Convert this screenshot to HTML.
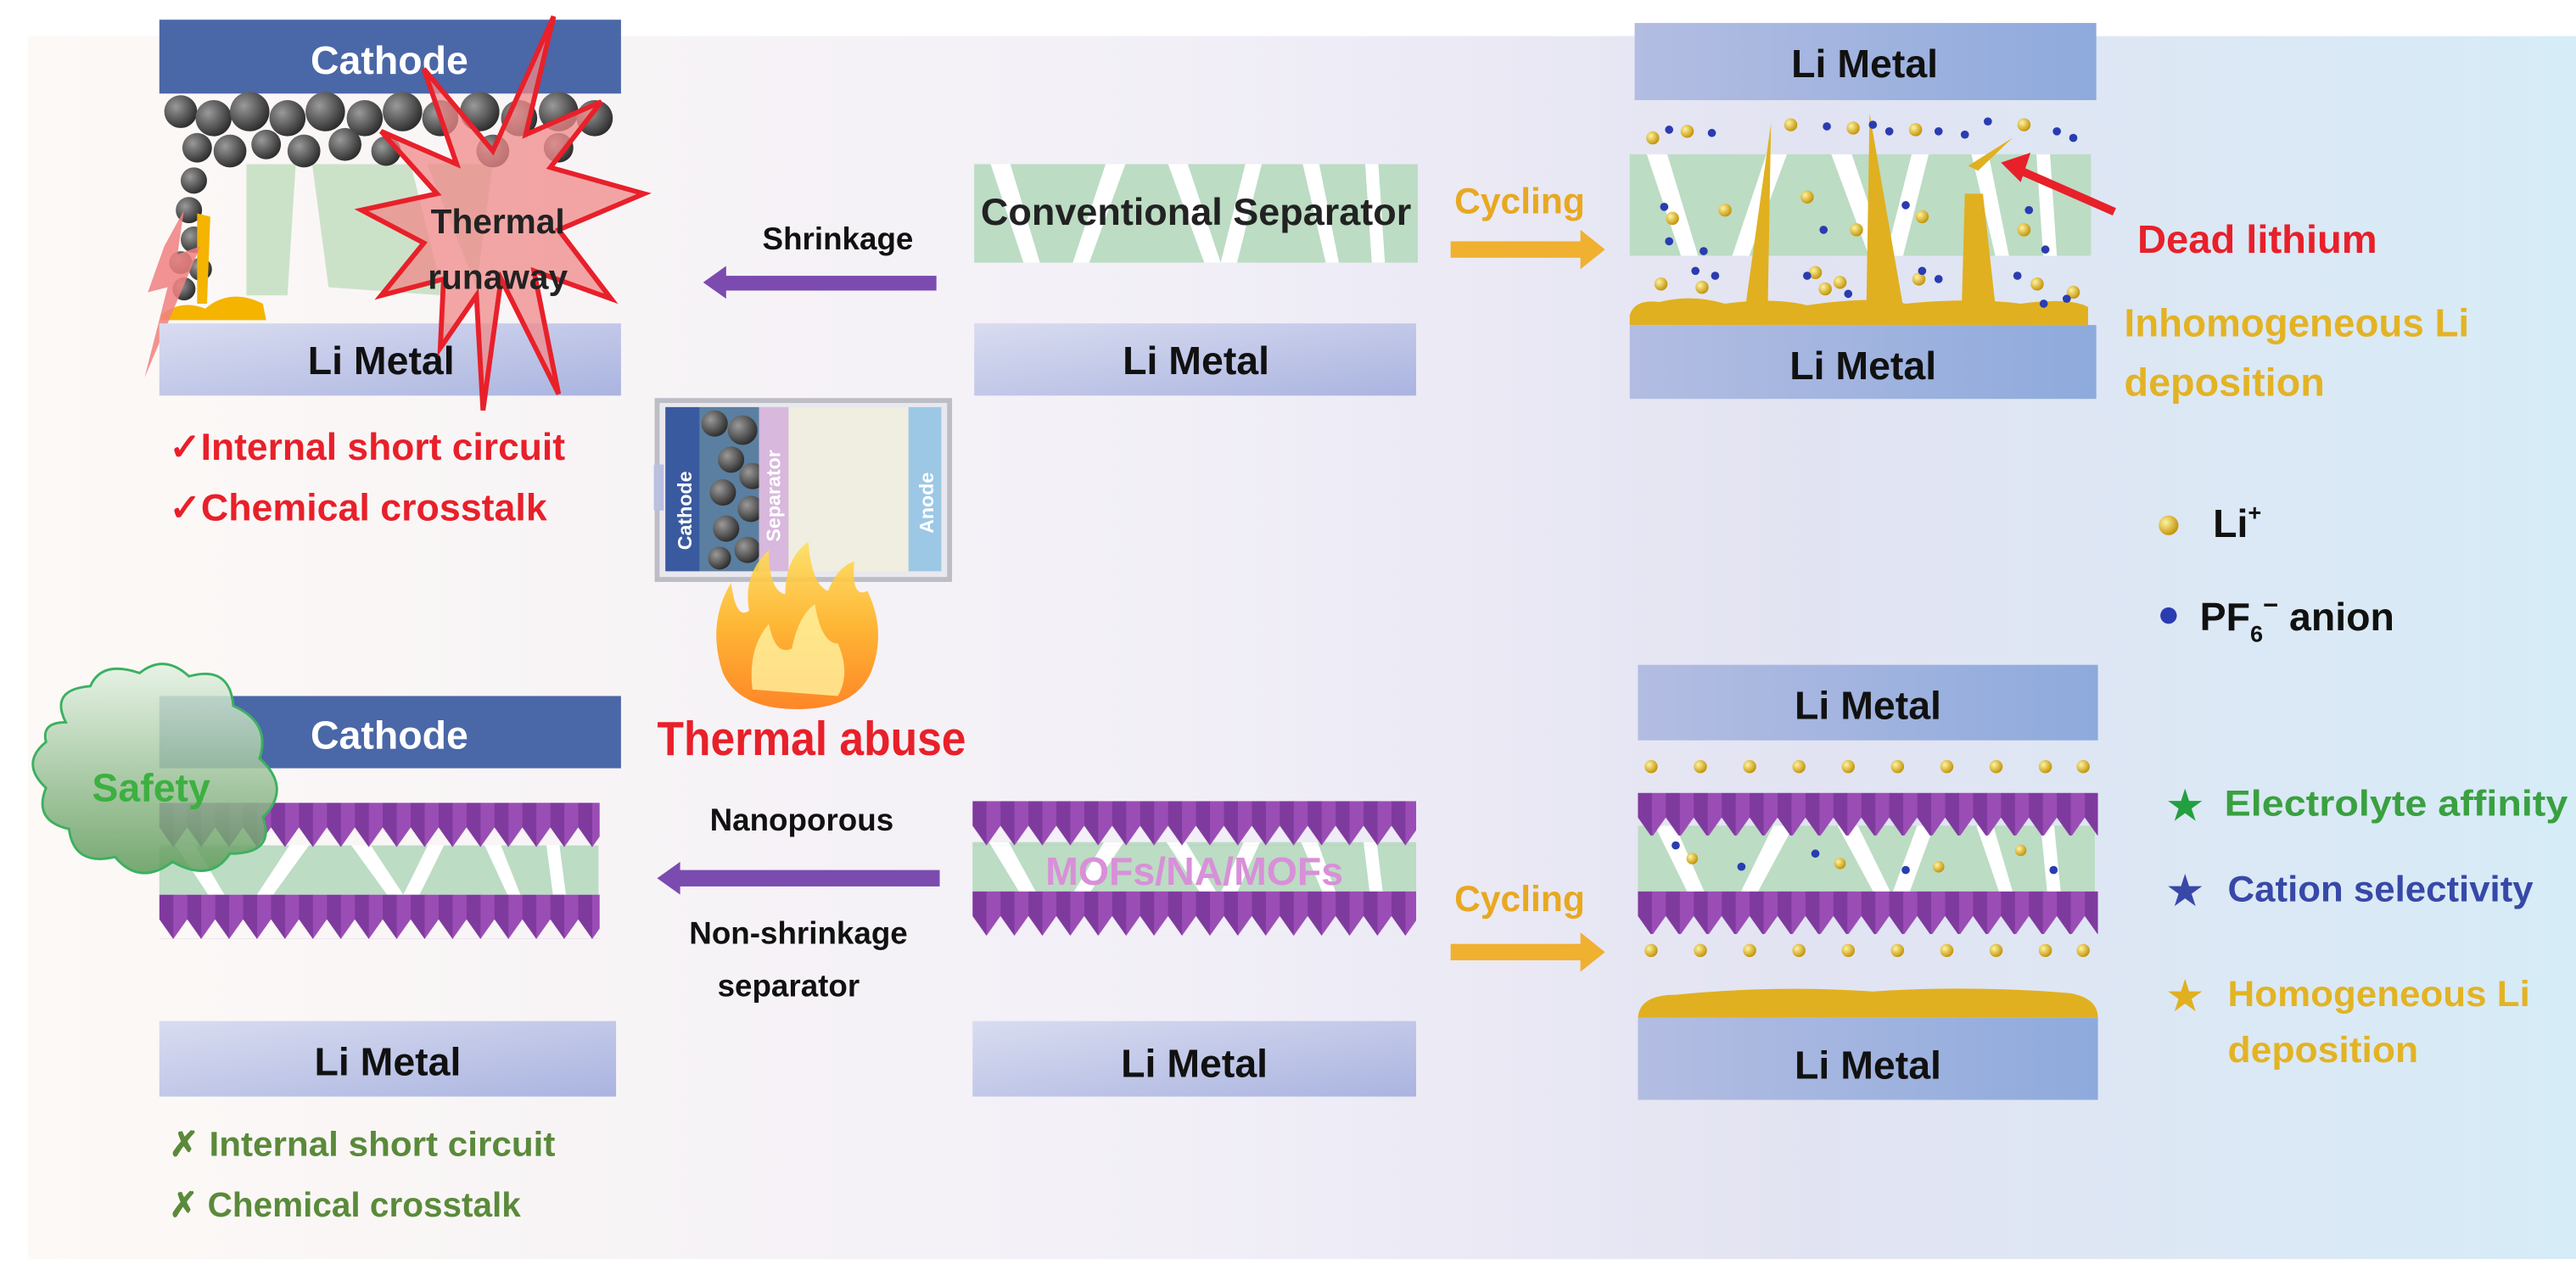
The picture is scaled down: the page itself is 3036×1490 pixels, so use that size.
<!DOCTYPE html>
<html><head><meta charset="utf-8"><style>
html,body{margin:0;padding:0;background:#fff}
svg{display:block}
text{font-family:"Liberation Sans",sans-serif;font-weight:bold}
</style></head><body>
<svg width="3036" height="1490" viewBox="0 0 1568 770" preserveAspectRatio="none" xmlns="http://www.w3.org/2000/svg">
<defs>
<linearGradient id="bg" x1="0" y1="0" x2="1" y2="0">
<stop offset="0" stop-color="#fdf9f6"/><stop offset="0.45" stop-color="#f2eff7"/><stop offset="0.7" stop-color="#e2e3f2"/><stop offset="1" stop-color="#d6ecf7"/></linearGradient>
<linearGradient id="li" x1="0" y1="0" x2="1" y2="1">
<stop offset="0" stop-color="#d9dcf0"/><stop offset="1" stop-color="#aab4e0"/></linearGradient>
<linearGradient id="li2" x1="0" y1="0" x2="1" y2="0">
<stop offset="0" stop-color="#b3bde2"/><stop offset="1" stop-color="#8eaadc"/></linearGradient>
<pattern id="mof" width="17" height="27" patternUnits="userSpaceOnUse">
<polygon points="0,0 17,0 17,15 8.5,27 0,15" fill="#9a4db5"/>
<polygon points="0,0 8.5,0 8.5,27 0,15" fill="#7f3a9e"/>
</pattern>
<radialGradient id="ball" cx="0.35" cy="0.35" r="0.7"><stop offset="0" stop-color="#9a9a9a"/><stop offset="1" stop-color="#2a2a2a"/></radialGradient>
<radialGradient id="gb" cx="0.35" cy="0.35" r="0.7"><stop offset="0" stop-color="#fff3a0"/><stop offset="1" stop-color="#c09000"/></radialGradient>
<linearGradient id="fire" x1="0" y1="1" x2="0" y2="0"><stop offset="0" stop-color="#ff7a10"/><stop offset="0.5" stop-color="#ffb020"/><stop offset="1" stop-color="#ffe060"/></linearGradient>
<linearGradient id="cloud" x1="0" y1="0" x2="0" y2="1"><stop offset="0" stop-color="#e4f2e4"/><stop offset="1" stop-color="#5f9a5a"/></linearGradient>
<g id="sep">
<rect x="0" y="0" width="270" height="60" fill="#bcdcc4"/>
<polygon points="10,0 22,0 40,60 30,60" fill="#fff"/>
<polygon points="80,0 92,0 70,60 60,60" fill="#fff"/>
<polygon points="118,0 130,0 150,60 140,60" fill="#fff"/>
<polygon points="165,0 175,0 160,60 150,60" fill="#fff"/>
<polygon points="200,0 210,0 222,60 214,60" fill="#fff"/>
<polygon points="238,0 246,0 250,60 242,60" fill="#fff"/>
</g>
</defs>
<rect width="1568" height="770" fill="#fff"/>
<rect x="17" y="22" width="1551" height="745" fill="url(#bg)"/>

<!-- TOP LEFT -->
<rect x="97" y="12" width="281" height="45" fill="#4a67a8"/>
<text x="237" y="45" font-size="24" fill="#fff" text-anchor="middle">Cathode</text>
<g opacity="0.9">
<polygon points="150,100 180,100 175,180 150,180" fill="#c8e0c4"/>
<polygon points="190,100 250,100 270,180 200,175" fill="#c8e0c4"/>
<polygon points="260,100 300,100 290,175" fill="#c8e0c4"/>
</g>
<g fill="url(#ball)">
<circle cx="110" cy="68" r="10"/><circle cx="130" cy="72" r="11"/><circle cx="152" cy="68" r="12"/><circle cx="175" cy="72" r="11"/><circle cx="198" cy="68" r="12"/><circle cx="222" cy="72" r="11"/><circle cx="245" cy="68" r="12"/><circle cx="268" cy="72" r="11"/><circle cx="292" cy="68" r="12"/><circle cx="316" cy="72" r="11"/><circle cx="340" cy="68" r="12"/><circle cx="362" cy="72" r="11"/>
<circle cx="120" cy="90" r="9"/><circle cx="140" cy="92" r="10"/><circle cx="162" cy="88" r="9"/><circle cx="185" cy="92" r="10"/><circle cx="210" cy="88" r="10"/><circle cx="235" cy="92" r="9"/><circle cx="300" cy="92" r="10"/><circle cx="340" cy="90" r="9"/>
<circle cx="118" cy="110" r="8"/><circle cx="115" cy="128" r="8"/><circle cx="118" cy="146" r="8"/><circle cx="110" cy="160" r="7"/><circle cx="112" cy="176" r="7"/><circle cx="122" cy="164" r="7"/>
</g>
<polygon points="120,130 128,132 126,185 120,185" fill="#f4b400"/>
<path d="M98,192 Q110,182 125,188 Q140,175 160,185 L162,195 L98,195Z" fill="#f4b400"/>
<polygon points="100,150 112,128 108,155 122,150 88,230 102,175 90,178" fill="#f08080" opacity="0.85"/>
<rect x="97" y="197" width="281" height="44" fill="url(#li)"/>
<text x="232" y="228" font-size="24" fill="#111" text-anchor="middle">Li Metal</text>
<polygon points="337,10 320,82 366,62 335,102 392,118 340,140 372,182 325,165 340,240 305,170 294,250 290,180 268,212 270,170 232,180 258,148 220,128 266,118 232,80 278,100 258,42 300,92" fill="#f08a8a" fill-opacity="0.75" stroke="#e8202a" stroke-width="3" stroke-linejoin="miter"/>
<text x="303" y="142" font-size="21" fill="#222" text-anchor="middle" font-weight="normal">Thermal</text>
<text x="303" y="176" font-size="21" fill="#222" text-anchor="middle" font-weight="normal">runaway</text>
<text x="103" y="280" font-size="23" fill="#e8202a" textLength="241" lengthAdjust="spacingAndGlyphs">✓Internal short circuit</text>
<text x="103" y="317" font-size="23" fill="#e8202a" textLength="230" lengthAdjust="spacingAndGlyphs">✓Chemical crosstalk</text>

<text x="510" y="152" font-size="19" fill="#111" text-anchor="middle" font-weight="normal">Shrinkage</text>
<rect x="440" y="168" width="130" height="9" fill="#7b4bb0"/>
<polygon points="428,172 442,162 442,182" fill="#7b4bb0"/>

<!-- Conventional -->
<use href="#sep" x="593" y="100"/>
<text x="728" y="137" font-size="23" fill="#222" text-anchor="middle" textLength="262" lengthAdjust="spacingAndGlyphs">Conventional Separator</text>
<rect x="593" y="197" width="269" height="44" fill="url(#li)"/>
<text x="728" y="228" font-size="24" fill="#111" text-anchor="middle">Li Metal</text>

<text x="925" y="130" font-size="22" fill="#e8a820" text-anchor="middle">Cycling</text>
<rect x="883" y="147" width="80" height="10" fill="#f0b030"/>
<polygon points="962,140 977,152 962,164" fill="#f0b030"/>

<!-- TOP RIGHT -->
<rect x="995" y="14" width="281" height="47" fill="url(#li2)"/>
<text x="1135" y="47" font-size="24" fill="#111" text-anchor="middle">Li Metal</text>
<g transform="translate(992,94) scale(1.04,1.03)"><use href="#sep"/></g>
<path d="M992,192 Q995,182 1010,184 Q1030,179 1050,185 Q1080,181 1100,186 Q1140,180 1160,185 Q1200,181 1230,185 Q1260,181 1271,187 L1271,198 L992,198Z" fill="#e0b020"/>
<polygon points="1062,190 1078,75 1076,190" fill="#e0b020"/>
<polygon points="1136,190 1138,69 1159,190" fill="#e0b020"/>
<polygon points="1194,190 1196,118 1207,118 1215,190" fill="#e0b020"/>
<polygon points="1198,101 1225,84 1204,104" fill="#e0b020"/>
<line x1="1287" y1="129" x2="1230" y2="104" stroke="#e8202a" stroke-width="5"/>
<polygon points="1218,99 1236,93 1230,111" fill="#e8202a"/>
<g fill="url(#gb)">
<circle cx="1006" cy="84" r="4"/><circle cx="1027" cy="80" r="4"/><circle cx="1090" cy="76" r="4"/><circle cx="1128" cy="78" r="4"/><circle cx="1166" cy="79" r="4"/><circle cx="1232" cy="76" r="4"/>
<circle cx="1018" cy="133" r="4"/><circle cx="1050" cy="128" r="4"/><circle cx="1100" cy="120" r="4"/><circle cx="1130" cy="140" r="4"/><circle cx="1170" cy="132" r="4"/><circle cx="1232" cy="140" r="4"/>
<circle cx="1011" cy="173" r="4"/><circle cx="1036" cy="175" r="4"/><circle cx="1105" cy="166" r="4"/><circle cx="1111" cy="176" r="4"/><circle cx="1120" cy="172" r="4"/><circle cx="1168" cy="170" r="4"/><circle cx="1240" cy="173" r="4"/><circle cx="1262" cy="178" r="4"/>
</g>
<g fill="#2a3cb0">
<circle cx="1016" cy="79" r="2.5"/><circle cx="1042" cy="81" r="2.5"/><circle cx="1112" cy="77" r="2.5"/><circle cx="1140" cy="76" r="2.5"/><circle cx="1150" cy="80" r="2.5"/><circle cx="1180" cy="80" r="2.5"/><circle cx="1196" cy="82" r="2.5"/><circle cx="1210" cy="74" r="2.5"/><circle cx="1252" cy="80" r="2.5"/><circle cx="1262" cy="84" r="2.5"/>
<circle cx="1013" cy="126" r="2.5"/><circle cx="1016" cy="147" r="2.5"/><circle cx="1037" cy="153" r="2.5"/><circle cx="1110" cy="140" r="2.5"/><circle cx="1160" cy="125" r="2.5"/><circle cx="1235" cy="128" r="2.5"/><circle cx="1245" cy="152" r="2.5"/>
<circle cx="1032" cy="165" r="2.5"/><circle cx="1044" cy="168" r="2.5"/><circle cx="1100" cy="168" r="2.5"/><circle cx="1125" cy="179" r="2.5"/><circle cx="1170" cy="165" r="2.5"/><circle cx="1180" cy="170" r="2.5"/><circle cx="1228" cy="168" r="2.5"/><circle cx="1258" cy="182" r="2.5"/><circle cx="1244" cy="185" r="2.5"/>
</g>
<rect x="992" y="198" width="284" height="45" fill="url(#li2)"/>
<text x="1134" y="231" font-size="24" fill="#111" text-anchor="middle">Li Metal</text>
<text x="1301" y="154" font-size="24" fill="#e8202a" textLength="146" lengthAdjust="spacingAndGlyphs">Dead lithium</text>
<text x="1293" y="205" font-size="24" fill="#e3b324" textLength="210" lengthAdjust="spacingAndGlyphs">Inhomogeneous Li</text>
<text x="1293" y="241" font-size="24" fill="#e3b324" textLength="122" lengthAdjust="spacingAndGlyphs">deposition</text>

<!-- Legend -->
<circle cx="1320" cy="320" r="6" fill="url(#gb)"/>
<text x="1347" y="327" font-size="24" fill="#111">Li<tspan font-size="14" dy="-10">+</tspan></text>
<circle cx="1320" cy="375" r="5" fill="#2a3cb0"/>
<text x="1339" y="384" font-size="24" fill="#111">PF<tspan font-size="14" dy="7">6</tspan><tspan font-size="16" dy="-17">−</tspan><tspan dy="10"> anion</tspan></text>

<!-- Battery cell -->
<rect x="400" y="244" width="178" height="109" fill="#e8e8ee" stroke="#bdbdc6" stroke-width="3"/>
<rect x="398" y="283" width="6" height="28" fill="#b9c0e0"/>
<rect x="405" y="248" width="21" height="100" fill="#3a5aa0"/>
<text transform="translate(421,335) rotate(-90)" font-size="12" fill="#fff" font-weight="normal">Cathode</text>
<rect x="426" y="248" width="36" height="100" fill="#5a7fa0"/>
<g fill="url(#ball)">
<circle cx="435" cy="258" r="8"/><circle cx="452" cy="262" r="9"/><circle cx="445" cy="280" r="8"/><circle cx="458" cy="290" r="8"/><circle cx="440" cy="300" r="8"/><circle cx="457" cy="310" r="8"/><circle cx="442" cy="322" r="8"/><circle cx="455" cy="335" r="8"/><circle cx="438" cy="340" r="7"/>
</g>
<rect x="462" y="248" width="18" height="100" fill="#d8b8dc"/>
<text transform="translate(475,330) rotate(-90)" font-size="12" fill="#fff" font-weight="normal">Separator</text>
<rect x="480" y="248" width="73" height="100" fill="#efeee0"/>
<rect x="553" y="248" width="20" height="100" fill="#9cc8e6"/>
<text transform="translate(568,325) rotate(-90)" font-size="12" fill="#fff" font-weight="normal">Anode</text>
<path d="M440,410 Q430,380 445,355 Q448,378 456,372 Q452,350 468,335 Q468,360 478,362 Q478,340 492,330 Q494,356 504,360 Q510,345 520,342 Q518,365 528,360 Q540,385 530,410 Q520,432 485,432 Q450,432 440,410Z" fill="url(#fire)" opacity="0.9"/>
<path d="M458,420 Q455,395 468,380 Q472,400 482,395 Q486,375 496,368 Q500,392 510,392 Q518,410 510,424Z" fill="#fff3a0" opacity="0.8"/>
<text x="494" y="460" font-size="29" fill="#e8202a" text-anchor="middle" textLength="188" lengthAdjust="spacingAndGlyphs">Thermal abuse</text>

<!-- BOTTOM LEFT -->
<rect x="97" y="424" width="281" height="44" fill="#4a67a8"/>
<text x="237" y="456" font-size="24" fill="#fff" text-anchor="middle">Cathode</text>
<g transform="translate(97,515) scale(0.99,0.5)"><use href="#sep"/></g>
<g transform="translate(97,489)"><rect width="268" height="27" fill="url(#mof)"/></g>
<g transform="translate(97,545)"><rect width="268" height="27" fill="url(#mof)"/></g>
<path d="M40,440 Q30,420 55,418 Q62,402 85,410 Q100,398 115,412 Q140,405 142,430 Q165,440 158,462 Q178,480 160,498 Q168,520 140,520 Q128,538 105,525 Q85,540 70,522 Q45,528 42,505 Q20,500 28,480 Q12,465 28,452 Q25,440 40,440Z" fill="url(#cloud)" fill-opacity="0.85" stroke="#3cb060" stroke-width="1.5"/>
<text x="92" y="488" font-size="24" fill="#3cb040" text-anchor="middle" font-weight="normal">Safety</text>
<rect x="97" y="622" width="278" height="46" fill="url(#li)"/>
<text x="236" y="655" font-size="24" fill="#111" text-anchor="middle">Li Metal</text>
<text x="103" y="704" font-size="21" fill="#5a8a3a" textLength="235" lengthAdjust="spacingAndGlyphs">✗ Internal short circuit</text>
<text x="103" y="741" font-size="21" fill="#5a8a3a" textLength="214" lengthAdjust="spacingAndGlyphs">✗ Chemical crosstalk</text>

<text x="488" y="506" font-size="19" fill="#111" text-anchor="middle" font-weight="normal">Nanoporous</text>
<rect x="412" y="530" width="160" height="10" fill="#7b4bb0"/>
<polygon points="400,535 414,525 414,545" fill="#7b4bb0"/>
<text x="486" y="575" font-size="19" fill="#111" text-anchor="middle" font-weight="normal">Non-shrinkage</text>
<text x="480" y="607" font-size="19" fill="#111" text-anchor="middle" font-weight="normal">separator</text>

<!-- BOTTOM MIDDLE -->
<g transform="translate(592,513) scale(1,0.55)"><use href="#sep"/></g>
<g transform="translate(592,488)"><rect width="270" height="27" fill="url(#mof)"/></g>
<g transform="translate(592,543)"><rect width="270" height="27" fill="url(#mof)"/></g>
<text x="727" y="539" font-size="24" fill="#d890d8" text-anchor="middle" font-weight="normal">MOFs/NA/MOFs</text>
<rect x="592" y="622" width="270" height="46" fill="url(#li)"/>
<text x="727" y="656" font-size="24" fill="#111" text-anchor="middle">Li Metal</text>

<text x="925" y="555" font-size="22" fill="#e8a820" text-anchor="middle">Cycling</text>
<rect x="883" y="575" width="80" height="10" fill="#f0b030"/>
<polygon points="962,568 977,580 962,592" fill="#f0b030"/>

<!-- BOTTOM RIGHT -->
<rect x="997" y="405" width="280" height="46" fill="url(#li2)"/>
<text x="1137" y="438" font-size="24" fill="#111" text-anchor="middle">Li Metal</text>
<g fill="url(#gb)">
<circle cx="1005" cy="467" r="4"/><circle cx="1035" cy="467" r="4"/><circle cx="1065" cy="467" r="4"/><circle cx="1095" cy="467" r="4"/><circle cx="1125" cy="467" r="4"/><circle cx="1155" cy="467" r="4"/><circle cx="1185" cy="467" r="4"/><circle cx="1215" cy="467" r="4"/><circle cx="1245" cy="467" r="4"/><circle cx="1268" cy="467" r="4"/>
<circle cx="1005" cy="579" r="4"/><circle cx="1035" cy="579" r="4"/><circle cx="1065" cy="579" r="4"/><circle cx="1095" cy="579" r="4"/><circle cx="1125" cy="579" r="4"/><circle cx="1155" cy="579" r="4"/><circle cx="1185" cy="579" r="4"/><circle cx="1215" cy="579" r="4"/><circle cx="1245" cy="579" r="4"/><circle cx="1268" cy="579" r="4"/>
</g>
<g transform="translate(997,503) scale(1.03,0.7)"><use href="#sep"/></g>
<g transform="translate(997,483)"><rect width="280" height="26" fill="url(#mof)"/></g>
<g transform="translate(997,543)"><rect width="280" height="26" fill="url(#mof)"/></g>
<g fill="url(#gb)"><circle cx="1030" cy="523" r="3.5"/><circle cx="1120" cy="526" r="3.5"/><circle cx="1180" cy="528" r="3.5"/><circle cx="1230" cy="518" r="3.5"/></g>
<g fill="#2a3cb0"><circle cx="1020" cy="515" r="2.5"/><circle cx="1060" cy="528" r="2.5"/><circle cx="1105" cy="520" r="2.5"/><circle cx="1160" cy="530" r="2.5"/><circle cx="1250" cy="530" r="2.5"/></g>
<path d="M997,620 Q998,606 1020,606 Q1080,600 1140,604 Q1200,600 1260,605 Q1277,608 1277,620Z" fill="#e0b020"/>
<rect x="997" y="620" width="280" height="50" fill="url(#li2)"/>
<text x="1137" y="657" font-size="24" fill="#111" text-anchor="middle">Li Metal</text>

<text x="1330" y="499" font-size="24" fill="#22a040" text-anchor="middle">★</text>
<text x="1354" y="497" font-size="22" fill="#3aa040" textLength="209" lengthAdjust="spacingAndGlyphs">Electrolyte affinity</text>
<text x="1330" y="551" font-size="24" fill="#3848a8" text-anchor="middle">★</text>
<text x="1356" y="549" font-size="22" fill="#3848a8" textLength="186" lengthAdjust="spacingAndGlyphs">Cation selectivity</text>
<text x="1330" y="615" font-size="24" fill="#e0b020" text-anchor="middle">★</text>
<text x="1356" y="613" font-size="22" fill="#e3b324" textLength="184" lengthAdjust="spacingAndGlyphs">Homogeneous Li</text>
<text x="1356" y="647" font-size="22" fill="#e3b324" textLength="116" lengthAdjust="spacingAndGlyphs">deposition</text>
</svg>
</body></html>
